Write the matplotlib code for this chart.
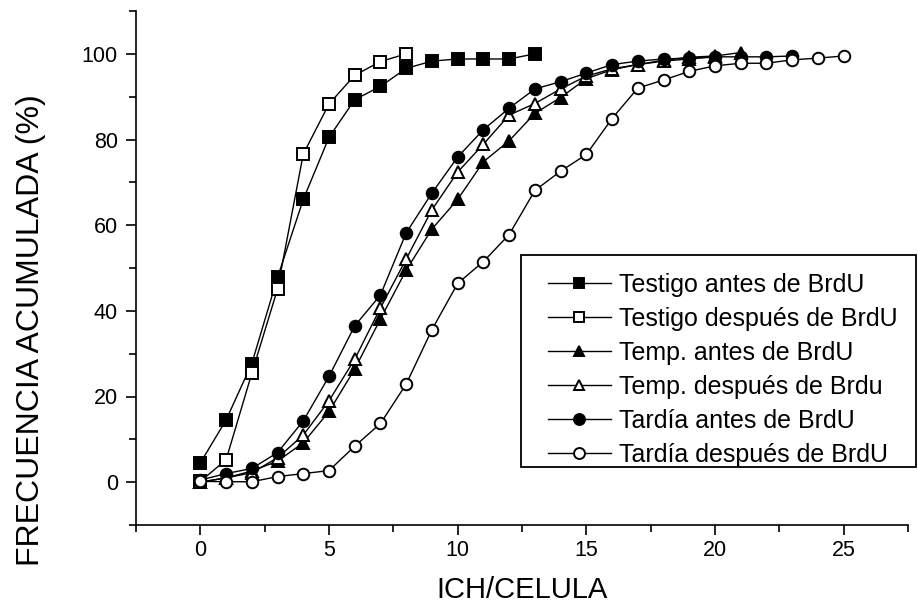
import matplotlib
matplotlib.use("Agg")
import matplotlib.pyplot as plt
from matplotlib.ticker import MultipleLocator
from matplotlib.patches import Rectangle

plt.rcParams['font.family'] = ['Liberation Sans', 'DejaVu Sans']

# Data (x = ICH per cell, y = cumulative frequency %)
testigo_antes = [4.5, 14.5, 27.7, 47.8, 66.0, 80.5, 89.3, 92.4, 96.6, 98.3, 98.8, 98.8, 98.8, 100.0]
testigo_despues = [0.2, 5.2, 25.4, 45.1, 76.6, 88.3, 95.0, 98.2, 100.0]
temp_antes = [0.0, 1.0, 2.6, 4.9, 9.2, 16.5, 26.4, 38.1, 49.5, 59.1, 66.0, 74.8, 79.7, 86.1,
              89.8, 94.2, 96.3, 97.5, 98.5, 99.2, 99.5, 100.3]
temp_despues = [0.0, 1.0, 2.2, 5.7, 11.0, 19.0, 28.7, 40.7, 52.1, 63.6, 72.4, 78.9, 85.7, 88.4,
                91.8, 94.8, 96.5, 97.5, 98.3, 98.8, 99.3]
tardia_antes = [0.5, 2.0, 3.2, 6.9, 14.3, 24.7, 36.5, 43.7, 58.2, 67.5, 75.9, 82.3, 87.3, 91.8,
                93.5, 95.5, 97.5, 98.3, 98.8, 99.0, 99.3, 99.3, 99.3, 99.5]
tardia_despues = [0.2, 0.1, 0.1, 1.3, 2.0, 2.7, 8.4, 13.7, 22.9, 35.6, 46.4, 51.5, 57.8, 68.1,
                  72.6, 76.5, 84.9, 92.0, 93.9, 95.9, 97.2, 97.8, 97.8, 98.6, 99.0, 99.5]

series = [
    ("Testigo antes de BrdU", testigo_antes, 's', 'black'),
    ("Testigo después de BrdU", testigo_despues, 's', 'white'),
    ("Temp. antes de BrdU", temp_antes, '^', 'black'),
    ("Temp. después de Brdu", temp_despues, '^', 'white'),
    ("Tardía antes de BrdU", tardia_antes, 'o', 'black'),
    ("Tardía después de BrdU", tardia_despues, 'o', 'white'),
]

xticks = [0, 5, 10, 15, 20, 25]
yticks = [0, 20, 40, 60, 80, 100]

W, H = 918, 607
fig = plt.figure(figsize=(W / 100, H / 100), dpi=100)
ax = fig.add_axes([136 / W, 1 - 525 / H, (908 - 136) / W, (525 - 11) / H])

handles = []
for label, ys, mk, fc in series:
    xs = list(range(len(ys)))
    h, = ax.plot(xs, ys, color='black', lw=1.0, marker=mk, markersize=8.3,
                 markerfacecolor=fc, markeredgecolor='black', markeredgewidth=1.4,
                 label=label)
    handles.append(h)

ax.set_xlim(-2.5, 27.5)
ax.set_ylim(-10, 110)
ax.set_xticks(xticks)
ax.set_yticks(yticks)
ax.xaxis.set_minor_locator(MultipleLocator(2.5))
ax.yaxis.set_minor_locator(MultipleLocator(10))
for s in ['top', 'right']:
    ax.spines[s].set_visible(False)
for s in ['left', 'bottom']:
    ax.spines[s].set_linewidth(1.2)
ax.tick_params(which='major', direction='out', length=7, width=1.2, labelsize=15.5)
ax.tick_params(axis='x', which='major', pad=4)
ax.tick_params(axis='y', which='major', pad=6)
ax.tick_params(which='minor', direction='out', length=5, width=1.2)

ax.set_xlabel("ICH/CELULA", fontsize=21)
ax.set_ylabel("FRECUENCIA ACUMULADA (%)", fontsize=23)
ax.xaxis.set_label_coords(522 / W, 1 - 576 / H, transform=fig.transFigure)
ax.yaxis.set_label_coords(46 / W, 1 - 330 / H, transform=fig.transFigure)

leg = ax.legend(handles=handles, loc='upper left', frameon=False,
                bbox_to_anchor=(548 / W, 1 - 273 / H), bbox_transform=fig.transFigure,
                borderpad=0, borderaxespad=0, fontsize=18, labelspacing=0.4,
                handlelength=2.5, handletextpad=0.35, markerscale=0.95)

fig.add_artist(Rectangle((521 / W, 1 - 467 / H), (916 - 521) / W, (467 - 255) / H,
                         transform=fig.transFigure, fill=False, lw=1.3, color='black'))

fig.savefig("out.png", dpi=100)
